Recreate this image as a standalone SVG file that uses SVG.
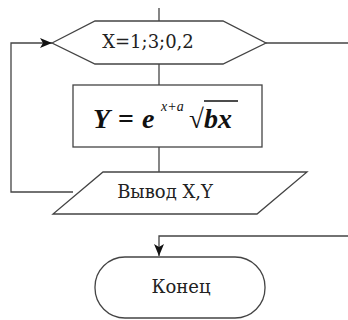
<svg xmlns="http://www.w3.org/2000/svg" width="348" height="320" viewBox="0 0 348 320">
<style>
.s{fill:#fff;stroke:#444;stroke-width:1.3}
.c{fill:none;stroke:#444;stroke-width:1.3}
.t{font-family:"DejaVu Serif","Liberation Serif",serif;font-size:18px;fill:#222}
.f{font-family:"Liberation Serif","Times New Roman",serif;font-weight:bold;font-style:italic;fill:#111}
</style>
<defs>
<marker id="a" viewBox="0 0 12 10" refX="12" refY="5" markerWidth="12" markerHeight="10" markerUnits="userSpaceOnUse" orient="auto">
<path d="M0,0 L12,5 L0,10 L3,5 Z" fill="#111"/>
</marker>
</defs>
<rect width="348" height="320" fill="#fff"/>
<g id="connectors">
<path class="c" d="M159,8 V21"/>
<path class="c" d="M159,64 V85"/>
<path class="c" d="M159,147 V172"/>
<path class="c" d="M73,192 H11 V43 H52" marker-end="url(#a)"/>
<path class="c" d="M266,43 H348"/>
<path class="c" d="M348,236 H159 V256" marker-end="url(#a)"/>
</g>
<g id="loop">
<polygon class="s" points="52,43 95,21 223,21 266,43 223,64 95,64"/>
<text class="t" x="148" y="48" text-anchor="middle">X=1;3;0,2</text>
</g>
<g id="calc">
<rect class="s" x="73" y="85" width="189" height="62"/>
<text class="f" x="93" y="128" style="font-size:28px">Y</text>
<text class="f" x="118" y="128" style="font-size:28px;font-style:normal">=</text>
<text class="f" x="142" y="128" style="font-size:28px">e</text>
<text class="f" x="161" y="111" style="font-size:14px;font-weight:normal">x+a</text>
<text x="189" y="128" style="font-family:'Liberation Serif',serif;font-size:27px" fill="#111">√</text>
<path d="M204,101 H238" stroke="#111" stroke-width="1.4"/>
<text class="f" x="204" y="128" style="font-size:28px">bx</text>
</g>
<g id="output">
<polygon class="s" points="103,172 307,172 257,214 53,214"/>
<text class="t" x="165" y="198" text-anchor="middle">Вывод X,Y</text>
</g>
<g id="end">
<rect class="s" x="95" y="257" width="170" height="61" rx="30" ry="30"/>
<text class="t" x="181" y="293" text-anchor="middle">Конец</text>
</g>
</svg>
